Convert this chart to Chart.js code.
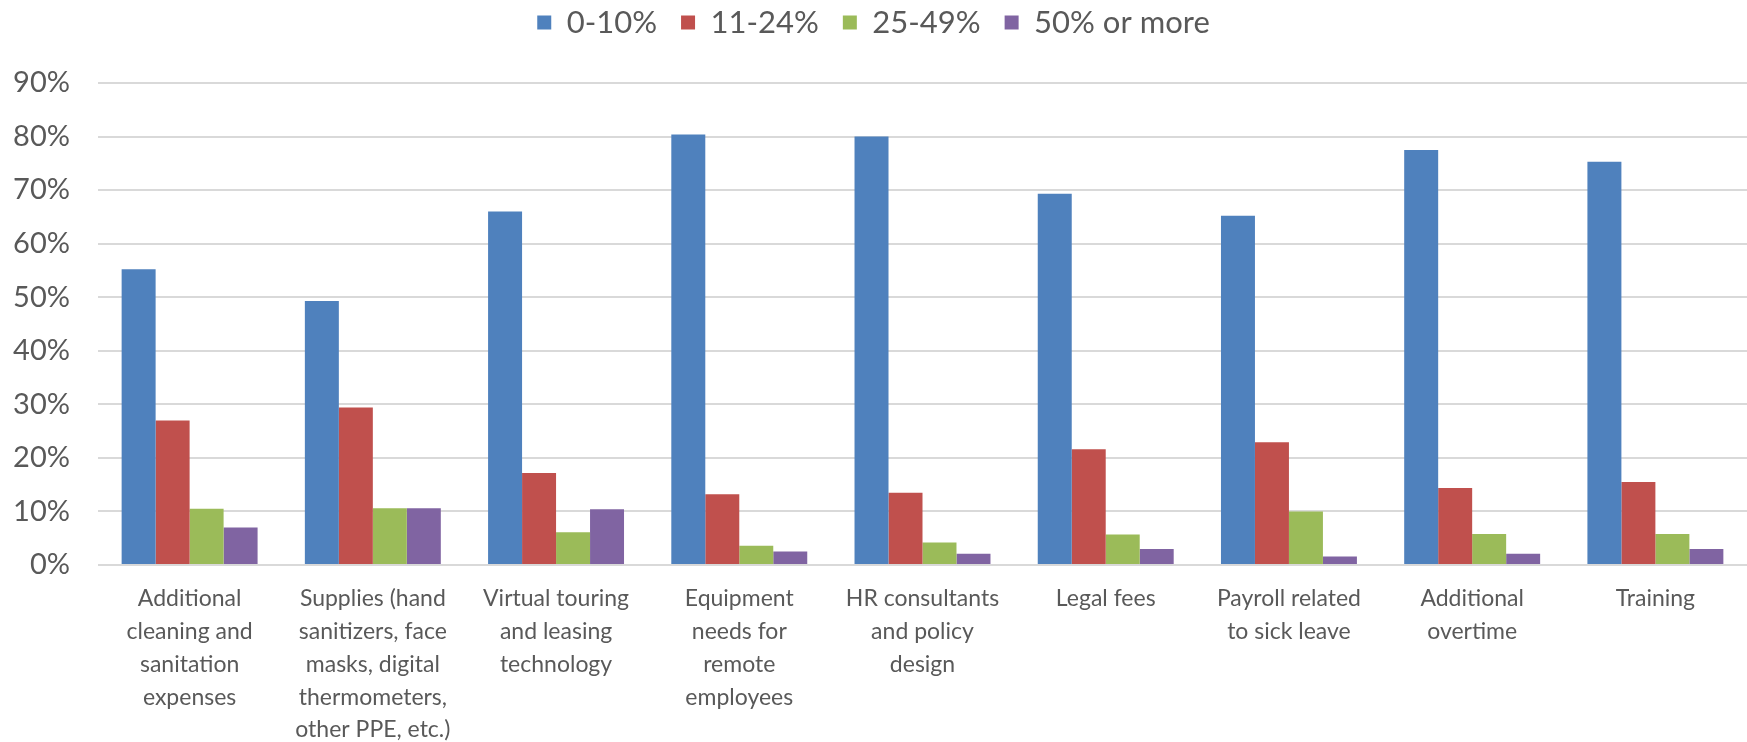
<!DOCTYPE html>
<html>
<head>
<meta charset="utf-8">
<script src="https://cdn.jsdelivr.net/npm/chart.js@4/dist/chart.umd.min.js"></script>
<style>
  body { margin: 0; background: #fff; }
  #wrap { width: 1747px; height: 742px; }
</style>
</head>
<body>
<div id="wrap"><canvas id="costChart" width="1747" height="742"></canvas></div>
<script>
// cost categories, one label line per array entry
let categories = [
    ['Additional', 'cleaning and', 'sanitation', 'expenses'],
    ['Supplies (hand', 'sanitizers, face', 'masks, digital', 'thermometers,', 'other PPE, etc.)'],
    ['Virtual touring', 'and leasing', 'technology'],
    ['Equipment', 'needs for', 'remote', 'employees'],
    ['HR consultants', 'and policy', 'design'],
    ['Legal fees'],
    ['Payroll related', 'to sick leave'],
    ['Additional', 'overtime'],
    ['Training']
];

let seriesNames = ['0-10%', '11-24%', '25-49%', '50% or more'];

// share of respondents (%)
let share0to10 = [55.2, 49.3, 66.0, 80.4, 80.0, 69.3, 65.2, 77.5, 75.3];
let share11to24 = [27.0, 29.4, 17.2, 13.2, 13.5, 21.6, 22.9, 14.4, 15.5];
let share25to49 = [10.5, 10.6, 6.1, 3.6, 4.2, 5.7, 10.0, 5.8, 5.8];
let share50plus = [7.0, 10.6, 10.4, 2.5, 2.1, 3.0, 1.6, 2.1, 3.0];

let yTicks = [0, 10, 20, 30, 40, 50, 60, 70, 80, 90];

let barColors = ['#4F81BD', '#C0504D', '#9BBB59', '#8064A2'];
let seriesValues = [share0to10, share11to24, share25to49, share50plus];

const textColor = '#595959';
const fontFamily = 'Lato, "Open Sans", sans-serif';

// keep the legend band a fixed height so the plot starts where it should
const legendBand = {
    id: 'legendBand',
    beforeLayout(chart) {
        const legend = chart.legend;
        if (legend && !legend._bandPatched) {
            const fit = legend.fit;
            legend.fit = function () {
                fit.call(this);
                this.height = 100;
            };
            legend._bandPatched = true;
        }
    }
};

let ctx = document.getElementById('costChart').getContext('2d');

let costChart = new Chart(ctx, {
    type: 'bar',
    data: {
        labels: categories,
        datasets: seriesNames.map((name, i) => ({
            label: name,
            data: seriesValues[i],
            backgroundColor: barColors[i],
            borderWidth: 0,
            categoryPercentage: 0.742,
            barPercentage: 1.0
        }))
    },
    options: {
        responsive: false,
        animation: false,
        // legend sits close to the top edge
        layout: { padding: { top: -17, right: 0, bottom: 0, left: 0 } },
        plugins: {
            legend: {
                position: 'top',
                labels: {
                    color: textColor,
                    font: { family: fontFamily, size: 31 },
                    boxWidth: 14,
                    boxHeight: 14,
                    padding: 24
                }
            },
            tooltip: { enabled: false }
        },
        scales: {
            x: {
                grid: { display: false, drawTicks: false },
                border: { display: false },
                ticks: {
                    color: textColor,
                    font: { family: fontFamily, size: 23, lineHeight: 1.43 },
                    maxRotation: 0,
                    autoSkip: false,
                    padding: 17
                },
                afterFit(scale) { scale.height = 177; }
            },
            y: {
                min: 0,
                max: 90,
                grid: { color: '#d9d9d9', lineWidth: 2, drawTicks: false },
                border: { display: false },
                afterBuildTicks(scale) {
                    scale.ticks = yTicks.map(v => ({ value: v }));
                },
                ticks: {
                    color: textColor,
                    font: { family: fontFamily, size: 29 },
                    padding: 28,
                    callback: v => v + '%'
                },
                afterFit(scale) { scale.width = 98; }
            }
        }
    },
    plugins: [legendBand]
});
</script>
</body>
</html>
